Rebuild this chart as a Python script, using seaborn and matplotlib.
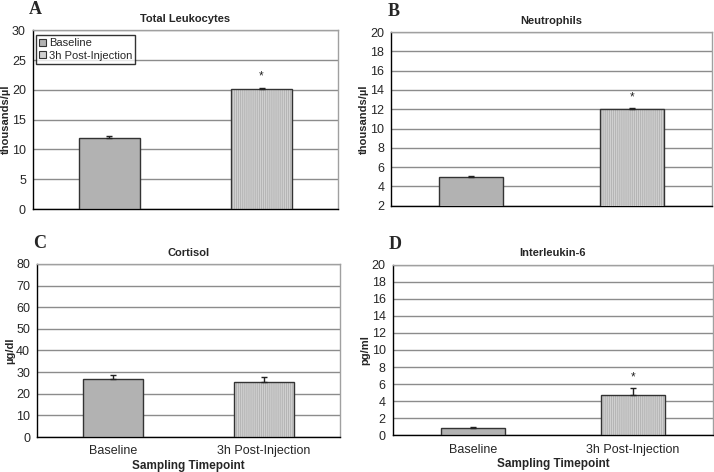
import matplotlib
matplotlib.use("Agg")
import matplotlib.pyplot as plt
import matplotlib.colors as mcolors
import seaborn as sns
import pandas as pd
import numpy as np
from matplotlib.patches import Patch

sns.set_theme(style="white")
plt.rcParams['font.family'] = ['Liberation Sans', 'DejaVu Sans']
plt.rcParams['hatch.color'] = "#b0b0b0"
plt.rcParams['hatch.linewidth'] = 0.6

categories = ["Baseline", "3h Post-Injection"]

leuko_vals = [12.0, 20.1]
leuko_err = [0.2, 0.25]
neut_vals = [5.0, 12.0]
neut_err = [0.1, 0.1]
cort_vals = [27.0, 25.3]
cort_err = [1.5, 2.5]
il6_vals = [0.8, 4.7]
il6_err = [0.15, 0.8]

stars_leuko = ["", "*"]
stars_neut = ["", "*"]
stars_cort = ["", ""]
stars_il6 = ["", "*"]

panels = [
    dict(letter="A", title="Total Leukocytes", ylabel="thousands/µl", vals=leuko_vals, err=leuko_err,
         stars=stars_leuko, ylim=(0, 30), yticks=[0, 5, 10, 15, 20, 25, 30],
         rect=[0.046, 0.557, 0.427, 0.379], xlab=False, legend=True),
    dict(letter="B", title="Neutrophils", ylabel="thousands/µl", vals=neut_vals, err=neut_err,
         stars=stars_neut, ylim=(2, 20), yticks=list(range(2, 21, 2)),
         rect=[0.548, 0.564, 0.449, 0.368], xlab=False, legend=False),
    dict(letter="C", title="Cortisol", ylabel="µg/dl", vals=cort_vals, err=cort_err,
         stars=stars_cort, ylim=(0, 80), yticks=list(range(0, 81, 10)),
         rect=[0.052, 0.074, 0.424, 0.367], xlab=True, legend=False),
    dict(letter="D", title="Interleukin-6", ylabel="pg/ml", vals=il6_vals, err=il6_err,
         stars=stars_il6, ylim=(0, 20), yticks=list(range(0, 21, 2)),
         rect=[0.550, 0.078, 0.449, 0.361], xlab=True, legend=False),
]

colors = ["#b2b2b2", "#d0d0d0"]
hatch_rgba = mcolors.to_rgba("#b0b0b0")

def apply_hatch(patch):
    patch.set_hatch("||||||||")
    if hasattr(patch, "set_hatchcolor"):
        patch.set_hatchcolor(hatch_rgba)
    else:
        patch._hatch_color = hatch_rgba

fig = plt.figure(figsize=(7.14, 4.72), dpi=100)

for p in panels:
    ax = fig.add_axes(p["rect"])
    df = pd.DataFrame({"cat": categories, "val": p["vals"]})
    sns.barplot(data=df, x="cat", y="val", hue="cat", palette=colors, width=0.4,
                edgecolor="#333333", linewidth=1.0, legend=False, ax=ax, zorder=3)
    for i, patch in enumerate(ax.patches):
        if i == 1:
            apply_hatch(patch)
    xs = np.arange(len(categories))
    ax.errorbar(xs, p["vals"], yerr=[np.zeros(len(xs)), p["err"]], fmt="none",
                ecolor="#222222", elinewidth=1.0, capsize=2, capthick=1.0, zorder=4)
    for x, v, e, s in zip(xs, p["vals"], p["err"], p["stars"]):
        if s:
            span = p["ylim"][1] - p["ylim"][0]
            ax.text(x, v + e + span * 0.03, s, ha="center", va="bottom", fontsize=8.5, color="#222222")
    ax.set_xlim(-0.5, 1.5)
    ax.set_ylim(*p["ylim"])
    ax.set_yticks(p["yticks"])
    ax.set_yticklabels([str(t) for t in p["yticks"]], fontsize=9)
    ax.yaxis.grid(True, color="#8c8c8c", linewidth=1.0, zorder=0)
    ax.set_axisbelow(True)
    ax.tick_params(axis="y", which="major", direction="out", length=3, width=1, color="black", pad=2)
    for side in ["top", "right"]:
        ax.spines[side].set_color("#a0a0a0")
        ax.spines[side].set_linewidth(1.0)
    for side in ["left", "bottom"]:
        ax.spines[side].set_color("black")
        ax.spines[side].set_linewidth(1.0)
    ax.set_ylabel(p["ylabel"], fontsize=8, fontweight="bold", labelpad=1)
    ax.set_title(p["title"], fontsize=8, fontweight="bold", pad=6)
    if p["xlab"]:
        ax.set_xticks([0, 1])
        ax.set_xticklabels(categories, fontsize=9)
        ax.tick_params(axis="x", length=0, pad=6)
        ax.set_xticks([-0.5, 0.5, 1.5], minor=True)
        ax.tick_params(axis="x", which="minor", direction="out", length=3, width=1, color="black")
        ax.set_xlabel("Sampling Timepoint", fontsize=8.5, fontweight="bold", labelpad=2)
    else:
        ax.set_xticks([])
        ax.set_xlabel("")
    if p["legend"]:
        h0 = Patch(facecolor=colors[0], edgecolor="#333333", linewidth=0.8)
        h1 = Patch(facecolor=colors[1], edgecolor="#333333", linewidth=0.8)
        leg = ax.legend([h0, h1], categories, loc="upper left", bbox_to_anchor=(0.0, 0.99),
                        fontsize=8, frameon=True, fancybox=False, borderpad=0.25,
                        handlelength=0.6, handleheight=0.6, handletextpad=0.3,
                        labelspacing=0.25, borderaxespad=0.3)
        leg.get_frame().set_edgecolor("black")
        leg.get_frame().set_linewidth(1.0)
    bbox = p["rect"]
    fig.text(bbox[0] - 0.005, bbox[1] + bbox[3] + 0.025, p["letter"], fontsize=13, fontweight="bold",
             family=["Liberation Serif", "DejaVu Serif"], ha="left", va="bottom")

fig.savefig("out.png", dpi=100)
